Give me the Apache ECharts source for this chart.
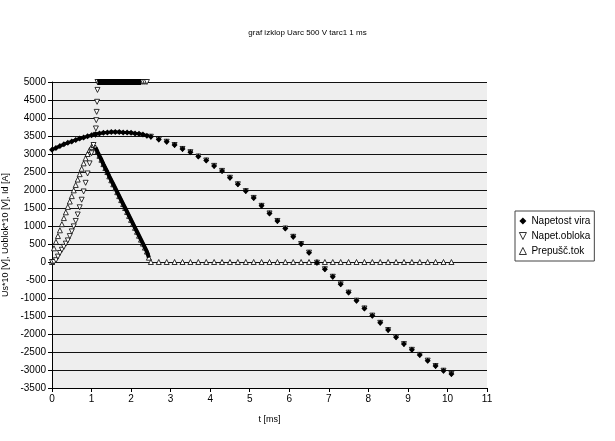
<!DOCTYPE html>
<html>
<head>
<meta charset="utf-8">
<script src="https://cdn.jsdelivr.net/npm/echarts@6/dist/echarts.min.js"></script>
<style>
  html, body { margin: 0; padding: 0; background: #fff; }
  #chart { width: 615px; height: 441px; }
</style>
</head>
<body>
<div id="chart"></div>
<script>
// source voltage, dense part (0..2.4 ms)
var tDense = [0, 0.1, 0.2, 0.3, 0.4, 0.5, 0.6, 0.7, 0.8, 0.9, 1.0, 1.1, 1.2, 1.3, 1.4, 1.5, 1.6, 1.7, 1.8, 1.9, 2.0, 2.1, 2.2, 2.3, 2.4];
var virDense = [3120, 3170, 3220, 3270, 3310, 3350, 3390, 3430, 3460, 3490, 3520, 3550, 3570, 3590, 3600, 3610, 3610, 3610, 3600, 3600, 3590, 3570, 3560, 3540, 3510];

// after current interruption (source voltage = arc voltage)
var tSparse = [2.5, 2.7, 2.9, 3.1, 3.3, 3.5, 3.7, 3.9, 4.1, 4.3, 4.5, 4.7, 4.9, 5.1, 5.3, 5.5, 5.7, 5.9, 6.1, 6.3, 6.5, 6.7, 6.9, 7.1, 7.3, 7.5, 7.7, 7.9, 8.1, 8.3, 8.5, 8.7, 8.9, 9.1, 9.3, 9.5, 9.7, 9.9, 10.1];
var recoveryV = [3480, 3400, 3340, 3250, 3140, 3050, 2930, 2820, 2670, 2530, 2340, 2160, 1970, 1780, 1560, 1350, 1140, 930, 700, 500, 260, -20, -200, -410, -620, -850, -1075, -1290, -1490, -1690, -1890, -2090, -2280, -2440, -2580, -2740, -2890, -3020, -3110];
var tokTail = [0, 0, 0, 0, 0, 0, 0, 0, 0, 0, 0, 0, 0, 0, 0, 0, 0, 0, 0, 0, 0, 0, 0, 0, 0, 0, 0, 0, 0, 0, 0, 0, 0, 0, 0, 0, 0, 0, 0];

// rise before arc (0..1.05 ms)
var tFine = [0, 0.05, 0.1, 0.15, 0.2, 0.25, 0.3, 0.35, 0.4, 0.45, 0.5, 0.55, 0.6, 0.65, 0.7, 0.75, 0.8, 0.85, 0.9, 0.95, 1.0, 1.05];
var tokRise = [0, 380, 560, 720, 880, 1050, 1220, 1380, 1530, 1680, 1830, 1990, 2140, 2290, 2440, 2590, 2740, 2880, 3000, 3110, 3200, 3250];
var oblokRise = [0, 0, 50, 150, 250, 340, 420, 510, 600, 720, 850, 990, 1140, 1320, 1520, 1730, 1960, 2200, 2460, 2740, 3020, 3250];

// arc ignition jump and clipped arc voltage
var tJump = [1.1, 1.11, 1.12, 1.13, 1.14, 1.15];
var oblokJump = [3530, 3710, 3940, 4170, 4450, 4780];
var tTop = [1.15, 1.2, 1.25, 1.3, 1.35, 1.4, 1.45, 1.5, 1.55, 1.6, 1.65, 1.7, 1.75, 1.8, 1.85, 1.9, 1.95, 2.0, 2.05, 2.1, 2.15, 2.2, 2.25];
var oblokTop = [5000, 5000, 5000, 5000, 5000, 5000, 5000, 5000, 5000, 5000, 5000, 5000, 5000, 5000, 5000, 5000, 5000, 5000, 5000, 5000, 5000, 5000, 5000];
var tTopEnd = [2.3, 2.35, 2.4];
var oblokTopEnd = [5000, 5000, 5000];

// current falling during arc
var tFall = [1.1, 1.15, 1.2, 1.25, 1.3, 1.35, 1.4, 1.45, 1.5, 1.55, 1.6, 1.65, 1.7, 1.75, 1.8, 1.85, 1.9, 1.95, 2.0, 2.05, 2.1, 2.15, 2.2, 2.25, 2.3, 2.35, 2.4, 2.45];
var tokFall = [3180, 3060, 2950, 2840, 2720, 2610, 2500, 2380, 2270, 2160, 2050, 1940, 1830, 1720, 1610, 1500, 1390, 1280, 1170, 1060, 950, 840, 730, 620, 510, 400, 290, 120];

var yTicks = { min: -3500, max: 5000, step: 500 };
var xTicks = { min: 0, max: 11, step: 1 };

function pairs(ts, vs) {
    var out = [];
    for (var i = 0; i < ts.length; i++) out.push([ts[i], vs[i]]);
    return out;
}

var downTri = 'path://M0,0L10,0L5,10Z';
var openMark = { color: '#fff', borderColor: '#000', borderWidth: 0.8, opacity: 1 };
var font = 'Liberation Sans';

// thick black band drawn over dense marker runs
function band(name, data, width) {
    return {
        name: name,
        type: 'line',
        symbol: 'none',
        silent: true,
        lineStyle: { color: '#000', width: width },
        data: data
    };
}

var chart = echarts.init(document.getElementById('chart'));
var option = {
    backgroundColor: '#fff',
    animation: false,
    title: {
        text: 'graf izklop Uarc 500 V tarc1 1 ms',
        left: 'center',
        top: 24,
        textStyle: { fontSize: 8, fontWeight: 'normal', color: '#000', fontFamily: font }
    },
    legend: {
        orient: 'vertical',
        left: 515,
        top: 211,
        itemWidth: 7,
        itemHeight: 7,
        itemGap: 5,
        padding: [5, 4, 5, 4],
        borderColor: '#444',
        borderWidth: 1,
        textStyle: { fontSize: 10, color: '#000', fontFamily: font },
        data: [
            { name: 'Napetost vira', icon: 'diamond', itemStyle: { color: '#000' } },
            { name: 'Napet.obloka', icon: downTri, itemStyle: openMark },
            { name: 'Prepušč.tok', icon: 'triangle', itemStyle: openMark }
        ]
    },
    grid: {
        left: 52,
        right: 128,
        top: 82,
        bottom: 53,
        outerBoundsMode: 'none',
        containLabel: false,
        show: true,
        backgroundColor: '#eeeeee',
        borderWidth: 0
    },
    xAxis: {
        type: 'value',
        min: xTicks.min,
        max: xTicks.max,
        interval: xTicks.step,
        name: 't [ms]',
        nameLocation: 'middle',
        nameGap: 27,
        nameTextStyle: { fontSize: 9, color: '#000', fontFamily: font },
        axisLine: { onZero: false, lineStyle: { color: '#000', width: 1 } },
        axisTick: { show: true, length: 4, lineStyle: { color: '#000' } },
        axisLabel: { fontSize: 10, color: '#000', margin: 6, fontFamily: font },
        splitLine: { show: false }
    },
    yAxis: {
        type: 'value',
        min: yTicks.min,
        max: yTicks.max,
        interval: yTicks.step,
        name: 'Us*10 [V], Uoblok*10 [V], Id [A]',
        nameLocation: 'middle',
        nameGap: 37,
        nameTextStyle: { fontSize: 9, color: '#000', fontFamily: font },
        axisLine: { show: true, onZero: false, lineStyle: { color: '#000', width: 1 } },
        axisTick: { show: true, length: 4, lineStyle: { color: '#000' } },
        axisLabel: {
            fontSize: 10, color: '#000', margin: 6, fontFamily: font,
            formatter: function (v) { return String(v); }
        },
        splitLine: { show: true, lineStyle: { color: '#111', width: 1 } }
    },
    series: [{
        name: 'Prepušč.tok',
        type: 'scatter',
        symbol: 'triangle',
        symbolSize: 5,
        itemStyle: openMark,
        data: pairs(tFine, tokRise).concat(pairs(tFall, tokFall), pairs(tSparse, tokTail))
    },
    band('Prepušč.tok', pairs(tFall, tokFall), 4),
    {
        name: 'Napet.obloka',
        type: 'scatter',
        symbol: downTri,
        symbolSize: 5,
        itemStyle: openMark,
        data: pairs(tFine, oblokRise).concat(pairs(tJump, oblokJump), pairs(tTop, oblokTop),
            pairs(tTopEnd, oblokTopEnd), pairs(tSparse, recoveryV))
    },
    band('Napet.obloka', pairs(tTop, oblokTop), 6),
    band('Napetost vira', pairs(tDense, virDense), 3),
    {
        name: 'Napetost vira',
        type: 'scatter',
        symbol: 'diamond',
        symbolSize: 6,
        itemStyle: { color: '#000', opacity: 1 },
        data: pairs(tDense, virDense).concat(pairs(tSparse, recoveryV))
    }]
};
chart.setOption(option);
</script>
</body>
</html>
